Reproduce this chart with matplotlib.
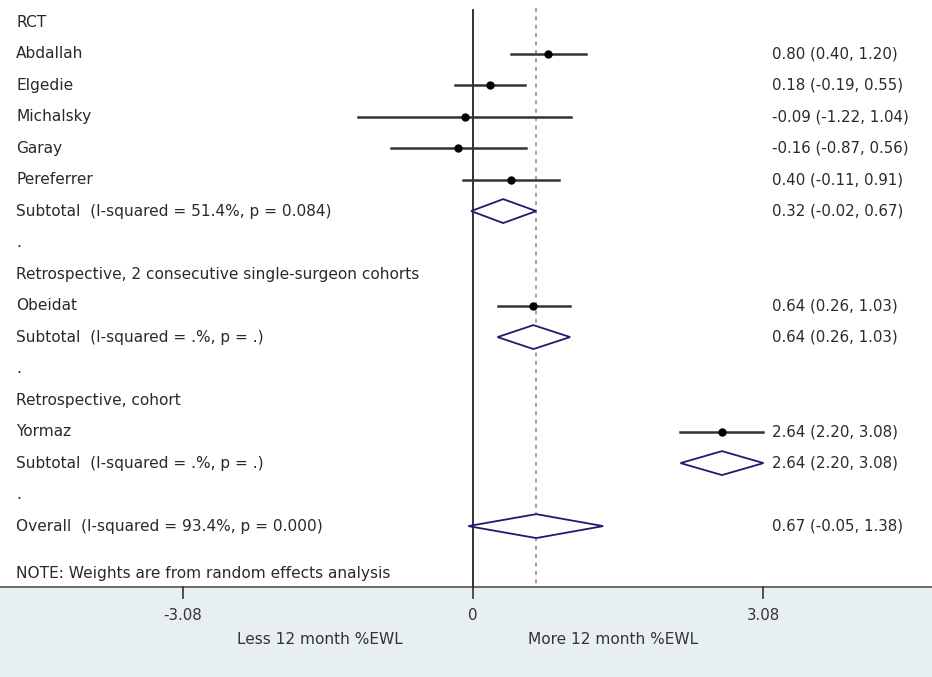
import matplotlib
matplotlib.use("Agg")
import matplotlib.pyplot as plt
from matplotlib.patches import Polygon

plt.rcParams["font.family"] = ["DejaVu Sans"]

# rows, top to bottom
row_labels = [
    "RCT", "Abdallah", "Elgedie", "Michalsky", "Garay", "Pereferrer",
    "Subtotal  (I-squared = 51.4%, p = 0.084)", ".",
    "Retrospective, 2 consecutive single-surgeon cohorts", "Obeidat",
    "Subtotal  (I-squared = .%, p = .)", ".",
    "Retrospective, cohort", "Yormaz",
    "Subtotal  (I-squared = .%, p = .)", ".",
    "Overall  (I-squared = 93.4%, p = 0.000)",
]

study_rows = [1, 2, 3, 4, 5, 9, 13]
study_est = [0.80, 0.18, -0.09, -0.16, 0.40, 0.64, 2.64]
study_lo = [0.40, -0.19, -1.22, -0.87, -0.11, 0.26, 2.20]
study_hi = [1.20, 0.55, 1.04, 0.56, 0.91, 1.03, 3.08]

pool_rows = [6, 10, 14, 16]
pool_est = [0.32, 0.64, 2.64, 0.67]
pool_lo = [-0.02, 0.26, 2.20, -0.05]
pool_hi = [0.67, 1.03, 3.08, 1.38]

overall = 0.67
xticks = [-3.08, 0, 3.08]
xticklabels = ["-3.08", "0", "3.08"]
note = "NOTE: Weights are from random effects analysis"

fig = plt.figure(figsize=(9.32, 6.77), dpi=100)
ax = fig.add_axes([0, 0, 1, 1])
ax.set_xlim(-5.016, 4.867)
ax.set_ylim(20.79, -0.70)
ax.axis("off")

axis_y = 17.94
fs = 10.8
fs_left = 11.1
txt = "#2a2a2a"
text_x = -4.846
est_x = 3.17

# bottom panel
ax.axhspan(axis_y, 20.79, color="#e7eff3", zorder=0)
ax.axhline(axis_y, color="#555555", lw=1.2, zorder=2)

# null line and overall line
ax.plot([0, 0], [-0.38, axis_y], color="#222222", lw=1.3, zorder=2)
ax.plot([overall, overall], [-0.45, axis_y], color="#9a7c7c", lw=1.1,
        linestyle=(0, (2.5, 3)), zorder=1)

for r, lab in enumerate(row_labels):
    ax.text(text_x, r, lab, fontsize=fs_left, va="center", ha="left", color=txt)
ax.text(text_x, 17.5, note, fontsize=fs_left, va="center", ha="left", color=txt)

# studies
for r, e, lo, hi in zip(study_rows, study_est, study_lo, study_hi):
    ax.plot([lo, hi], [r, r], color="#333333", lw=1.8, zorder=3)
    ax.plot(e, r, "o", color="black", ms=5, zorder=4)
    ax.text(est_x, r, f"{e:.2f} ({lo:.2f}, {hi:.2f})", fontsize=fs,
            va="center", ha="left", color=txt)

# pooled diamonds
h = 0.38
for r, e, lo, hi in zip(pool_rows, pool_est, pool_lo, pool_hi):
    d = Polygon([[lo, r], [e, r - h], [hi, r], [e, r + h]], closed=True,
                facecolor="white", edgecolor="#1c1c6e", lw=1.3, zorder=3)
    ax.add_patch(d)
    ax.text(est_x, r, f"{e:.2f} ({lo:.2f}, {hi:.2f})", fontsize=fs,
            va="center", ha="left", color=txt)

# ticks
for t, tl in zip(xticks, xticklabels):
    ax.plot([t, t], [axis_y, axis_y + 0.35], color="#333333", lw=1.2, zorder=2)
    ax.text(t, axis_y + 0.9, tl, fontsize=fs, ha="center", va="center",
            color="#333333")

ax.text(-1.62, axis_y + 1.65, "Less 12 month %EWL", fontsize=fs_left,
        ha="center", va="center", color="#333333")
ax.text(1.49, axis_y + 1.65, "More 12 month %EWL", fontsize=fs_left,
        ha="center", va="center", color="#333333")

fig.savefig("out.png", dpi=100)
